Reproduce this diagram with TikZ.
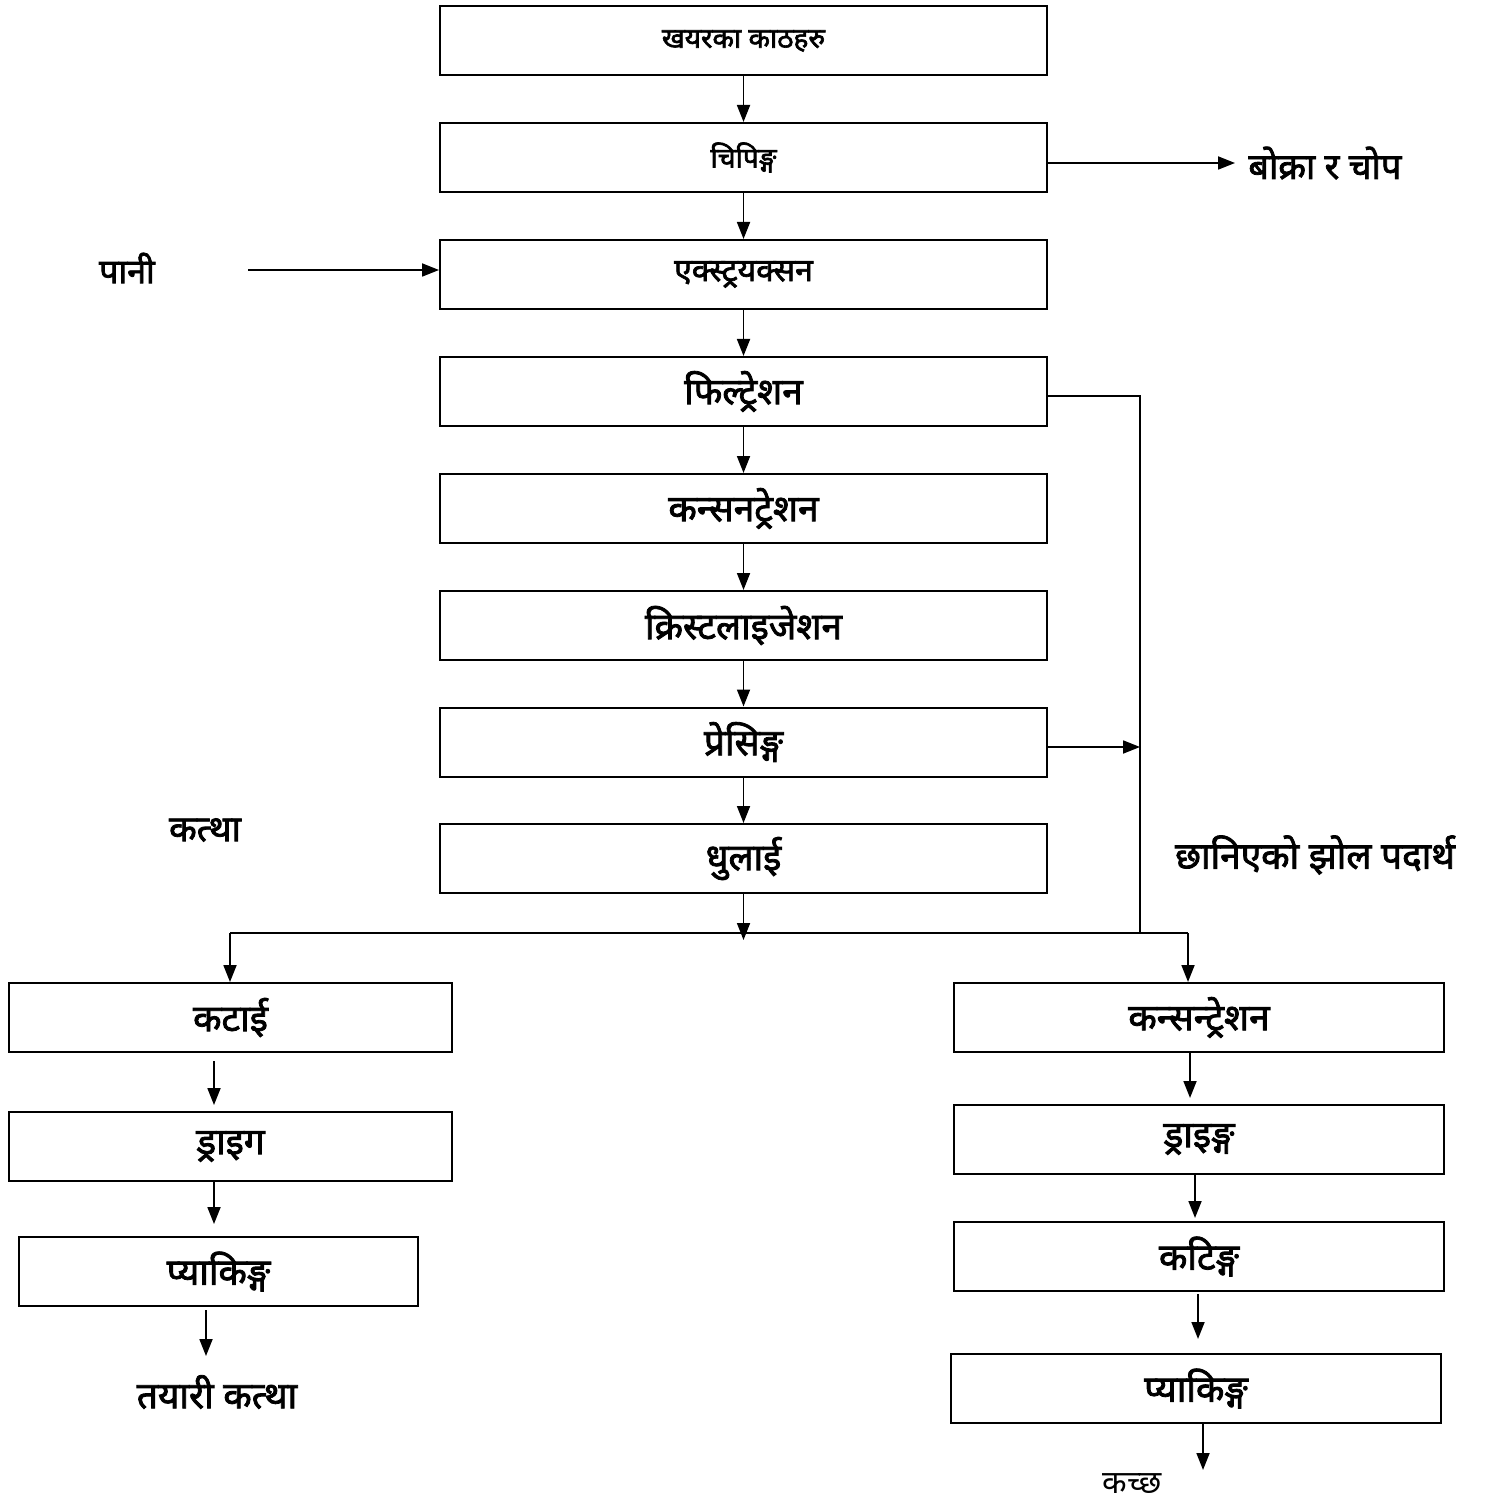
\documentclass[tikz,border=0pt]{standalone}
\usepackage{fontspec}
\setmainfont{Noto Sans}[Script=Devanagari, BoldFont=Noto Sans, BoldFeatures={FakeBold=2.2}]
\usetikzlibrary{arrows.meta}
\begin{document}
\begin{tikzpicture}[x=0.5pt,y=-0.5pt,
  box/.style={draw,line width=1pt,inner sep=0pt,minimum height=34.5pt},
  fS/.style={font=\bfseries\fontsize{14}{16}\selectfont},
  fM/.style={font=\bfseries\fontsize{16}{18}\selectfont},
  fL/.style={font=\bfseries\fontsize{18.5}{20}\selectfont},
  mainbox/.style={box,minimum width=303.5pt},
  lbl/.style={inner sep=0pt},
  arr/.style={-{Triangle[length=8.5pt,width=6.5pt]},line width=0.9pt},
  ln/.style={line width=0.9pt}]
\useasboundingbox (0,0) rectangle (1485,1502);
% main column
\node[mainbox,fS] (m1) at (743.5,41) {खयरका काठहरु};
\node[mainbox,fS] (m2) at (743.5,157.5) {चिपिङ्ग};
\node[mainbox,fM] (m3) at (743.5,274.5) {एक्स्ट्रयक्सन};
\node[mainbox,fL] (m4) at (743.5,391.5) {फिल्ट्रेशन};
\node[mainbox,fL] (m5) at (743.5,508.5) {कन्सनट्रेशन};
\node[mainbox,fL] (m6) at (743.5,625.5) {क्रिस्टलाइजेशन};
\node[mainbox,fL] (m7) at (743.5,742) {प्रेसिङ्ग};
\node[mainbox,fL] (m8) at (743.5,858.5) {धुलाई};
% left column
\node[box,fL,minimum width=221.5pt] (l1) at (230.5,1017.5) {कटाई};
\node[box,fL,minimum width=221.5pt] (l2) at (230.5,1146.5) {ड्राइग};
\node[box,fL,minimum width=199.5pt] (l3) at (218.5,1271.5) {प्याकिङ्ग};
% right column
\node[box,fL,minimum width=245pt] (r1) at (1199,1017.5) {कन्सन्ट्रेशन};
\node[box,fL,minimum width=245pt] (r2) at (1199,1139.5) {ड्राइङ्ग};
\node[box,fL,minimum width=245pt] (r3) at (1199,1256.5) {कटिङ्ग};
\node[box,fL,minimum width=245pt] (r4) at (1196,1388.5) {प्याकिङ्ग};
% labels
\node[lbl,font=\bfseries\fontsize{18}{20}\selectfont,anchor=west] (boka) at (1248,163) {बोक्रा र चोप};
\node[lbl,font=\bfseries\fontsize{17}{19}\selectfont] (pani) at (127,268) {पानी};
\node[lbl,font=\bfseries\fontsize{18}{20}\selectfont] (katha) at (205,830) {कत्था};
\node[lbl,fL] (chha) at (1315,855) {छानिएको झोल पदार्थ};
\node[lbl,fL] (tayari) at (217,1392) {तयारी कत्था};
\node[lbl,font=\fontsize{16}{18}\selectfont] (kachchha) at (1132,1484) {कच्छ};
% coordinates
\coordinate (pw) at (248,270);
\coordinate (fy) at (0,396);
\coordinate (jn) at (1140,933);
\coordinate (py) at (0,747);
\coordinate (bl) at (230,933);
\coordinate (br) at (1188,933);
\coordinate (dt) at (743.5,940);
\coordinate (a1) at (214,0);
\coordinate (a3) at (206,0);
\coordinate (ae) at (206,1356);
\coordinate (b1) at (1190,0);
\coordinate (b2) at (1195,0);
\coordinate (b3) at (1198,0);
\coordinate (be) at (1203,1470);
% connectors main
\draw[arr] (m1) -- (m2);
\draw[arr] (m2) -- (m3);
\draw[arr] (m3) -- (m4);
\draw[arr] (m4) -- (m5);
\draw[arr] (m5) -- (m6);
\draw[arr] (m6) -- (m7);
\draw[arr] (m7) -- (m8);
\draw[arr] (m8) -- (dt);
\draw[arr,shorten >=6.5pt] (boka.west -| m2.east) -- (boka.west);
\draw[arr] (pw) -- (pw -| m3.west);
\draw[ln] (fy -| m4.east) -| (jn);
\draw[arr] (py -| m7.east) -- (py -| jn);
\draw[ln] (bl) -- (br);
\draw[arr] (bl) -- (bl |- l1.north);
\draw[arr] (br) -- (br |- r1.north);
% left arrows
\draw[arr,shorten <=4pt,shorten >=3pt] (l1.south -| a1) -- (l2.north -| a1);
\draw[arr,shorten >=6pt] (l2.south -| a1) -- (l3.north -| a1);
\draw[arr,shorten <=1.5pt] (l3.south -| a3) -- (ae);
% right arrows
\draw[arr,shorten >=3pt] (r1.south -| b1) -- (r2.north -| b1);
\draw[arr,shorten >=1.5pt] (r2.south -| b2) -- (r3.north -| b2);
\draw[arr,shorten <=1pt,shorten >=7pt] (r3.south -| b3) -- (r4.north -| b3);
\draw[arr] (r4.south -| be) -- (be);
\end{tikzpicture}
\end{document}
